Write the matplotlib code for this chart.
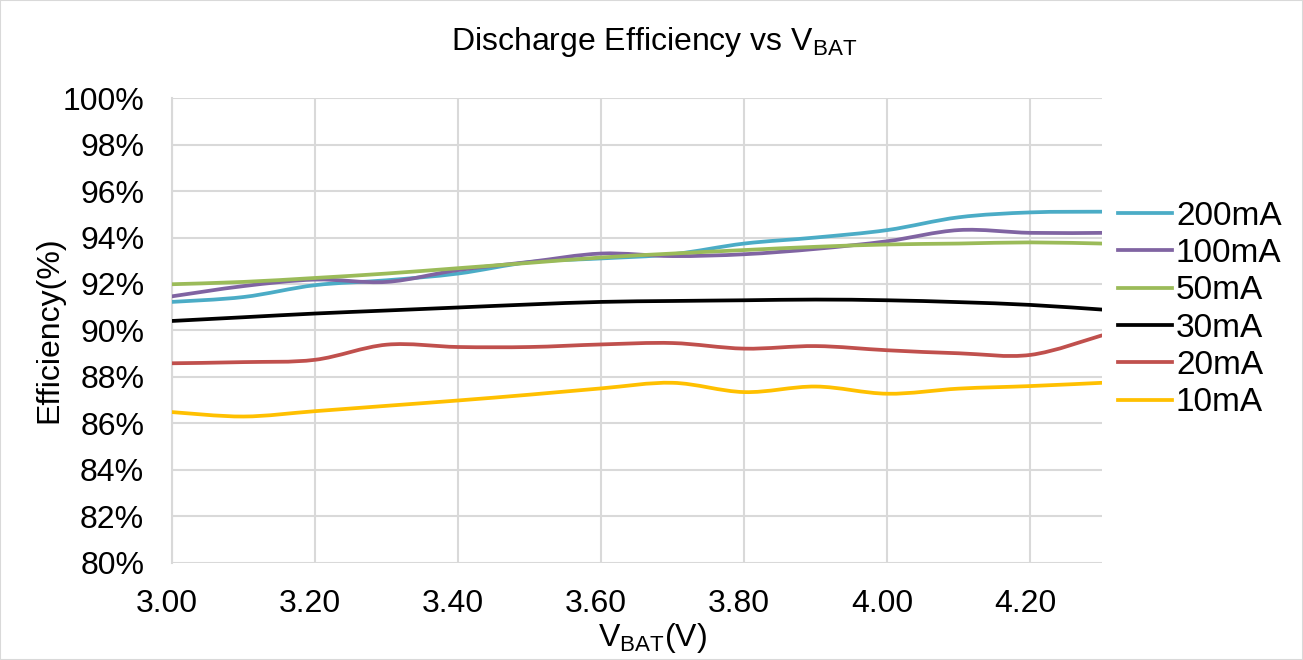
import matplotlib
matplotlib.use("Agg")
import matplotlib.pyplot as plt
import matplotlib.transforms as mtransforms
from matplotlib.path import Path
from matplotlib.patches import PathPatch, Rectangle
from matplotlib.lines import Line2D
import numpy as np

# Battery voltage points (V)
vbat = [3.0, 3.1, 3.2, 3.3, 3.4, 3.5, 3.6, 3.7, 3.8, 3.9, 4.0, 4.1, 4.2, 4.3]

# Efficiency (%) per load current
eff_200ma = [91.23, 91.44, 91.95, 92.16, 92.45, 92.94, 93.10, 93.28, 93.74, 94.00, 94.32, 94.87, 95.08, 95.11]
eff_100ma = [91.47, 91.91, 92.19, 92.09, 92.60, 92.95, 93.31, 93.20, 93.28, 93.51, 93.84, 94.32, 94.20, 94.20]
eff_50ma = [91.99, 92.09, 92.26, 92.45, 92.68, 92.91, 93.14, 93.31, 93.46, 93.60, 93.70, 93.74, 93.79, 93.74]
eff_30ma = [90.41, 90.57, 90.73, 90.86, 90.99, 91.12, 91.23, 91.27, 91.30, 91.33, 91.30, 91.22, 91.10, 90.90]
eff_20ma = [88.59, 88.64, 88.74, 89.39, 89.29, 89.29, 89.40, 89.46, 89.22, 89.33, 89.15, 89.02, 88.95, 89.79]
eff_10ma = [86.49, 86.30, 86.53, 86.76, 86.99, 87.24, 87.51, 87.75, 87.35, 87.59, 87.28, 87.50, 87.61, 87.75]

labels = ["200mA", "100mA", "50mA", "30mA", "20mA", "10mA"]
series = [eff_200ma, eff_100ma, eff_50ma, eff_30ma, eff_20ma, eff_10ma]
colors = ["#4bacc6", "#8064a2", "#9bbb59", "#000000", "#c0504d", "#ffc000"]

x_ticks = [3.0, 3.2, 3.4, 3.6, 3.8, 4.0, 4.2]
y_ticks = [80, 82, 84, 86, 88, 90, 92, 94, 96, 98, 100]

plt.rcParams["font.family"] = ["Liberation Sans", "DejaVu Sans"]
FS = 23


def smooth_path(xs, ys):
    # Excel-style smoothed line: cubic Bezier segments through every point
    pts = np.column_stack([xs, ys])
    n = len(pts)
    verts = [pts[0]]
    codes = [Path.MOVETO]
    for i in range(n - 1):
        p0 = pts[i - 1] if i > 0 else pts[i]
        p1 = pts[i]
        p2 = pts[i + 1]
        p3 = pts[i + 2] if i + 2 < n else pts[i + 1]
        c1 = p1 + (p2 - p0) / 6.0
        c2 = p2 - (p3 - p1) / 6.0
        verts += [c1, c2, p2]
        codes += [Path.CURVE4] * 3
    return Path(verts, codes)


fig = plt.figure(figsize=(13.03, 6.6), dpi=100)
ax = fig.add_axes([0.132, 0.147, 0.7137, 0.7045])

for ys, col in zip(series, colors):
    patch = PathPatch(smooth_path(vbat, ys), facecolor="none", edgecolor=col,
                      linewidth=2.7, capstyle="round", joinstyle="round", zorder=3)
    ax.add_patch(patch)

ax.set_xlim(3.0, 4.3)
ax.set_ylim(80, 100)
ax.set_xticks(x_ticks)
ax.set_xticklabels([f"{v:.2f}" for v in x_ticks])
ax.set_yticks(y_ticks)
ax.set_yticklabels([f"{v}%" for v in y_ticks])
ax.tick_params(length=0, labelsize=FS)
ax.tick_params(axis="y", pad=20)
ax.tick_params(axis="x", pad=19)
# Excel draws the category labels slightly left of the gridlines
shift = mtransforms.ScaledTranslation(-5.5 / 100, 0, fig.dpi_scale_trans)
for lbl in ax.get_xticklabels():
    lbl.set_transform(lbl.get_transform() + shift)

ax.grid(True, color="#d9d9d9", linewidth=1.5)
ax.set_axisbelow(True)
for side in ["top", "right", "bottom"]:
    ax.spines[side].set_visible(False)
ax.spines["left"].set_color("#d9d9d9")
ax.spines["left"].set_linewidth(1.5)

fig.text(49.5 / 1303, 1 - 330 / 660, "Efficiency(%)", fontsize=FS,
         rotation=90, ha="center", va="center")
fig.text(652 / 1303, 1 - 638 / 660, r"V$_\mathregular{BAT}$(V)", fontsize=FS,
         ha="center", va="center")
fig.text(654 / 1303, 1 - 42 / 660, r"Discharge Efficiency vs V$_\mathregular{BAT}$",
         fontsize=FS, ha="center", va="center")

handles = [Line2D([0], [0], color=c, linewidth=2.7) for c in colors]
fig.legend(handles, labels, loc="center left", bbox_to_anchor=(0.858, 0.531),
           frameon=False, fontsize=24, handlelength=1.62, handletextpad=0.12,
           labelspacing=0.19, borderpad=0, borderaxespad=0)

fig.patches.append(Rectangle((0, 0), 1, 1, transform=fig.transFigure,
                             fill=False, edgecolor="#d9d9d9", linewidth=1.5))

fig.savefig("out.png", dpi=100)
